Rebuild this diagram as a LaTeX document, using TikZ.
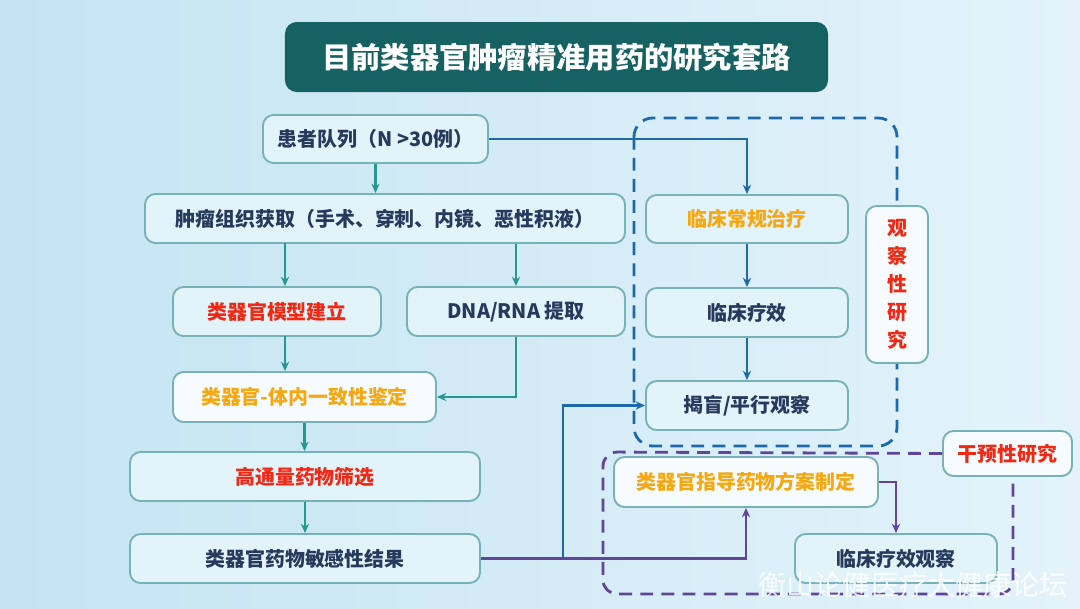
\documentclass[tikz,border=0pt]{standalone}
\usepackage{fontspec}
\newfontfamily\cjk{Noto Sans CJK SC}
\usetikzlibrary{arrows.meta,calc}
\definecolor{bgA}{RGB}{196,228,243}
\definecolor{bgB}{RGB}{228,243,250}
\definecolor{titlebg}{RGB}{22,98,98}
\definecolor{boxfill}{RGB}{226,243,250}
\definecolor{boxline}{RGB}{118,178,184}
\definecolor{navy}{RGB}{38,58,92}
\definecolor{redt}{RGB}{240,40,20}
\definecolor{oranget}{RGB}{245,168,18}
\definecolor{tealline}{RGB}{40,150,145}
\definecolor{blueline}{RGB}{30,105,170}
\definecolor{purpleline}{RGB}{95,70,150}
\tikzset{
  box/.style={draw=boxline, line width=1.6pt, fill=boxfill, rounded corners=9pt, inner sep=0pt,
    font=\cjk\bfseries\fontsize{17}{20}\selectfont, text=navy, align=center},
  whitebox/.style={box, fill=white!70!boxfill},
  tarrow/.style={draw=tealline, line width=2pt, -{Stealth[length=8pt,width=7pt]}},
  barrow/.style={draw=blueline, line width=2.2pt, -{Stealth[length=8pt,width=7pt]}},
  parrow/.style={draw=purpleline, line width=2.2pt, -{Stealth[length=8pt,width=7pt]}},
  frame/.style={line width=2.4pt, dash pattern=on 11pt off 7pt},
}
\begin{document}
\begin{tikzpicture}[x=0.03cm,y=-0.03cm]
% background
\shade[left color=bgA, right color=bgB] (0,0) rectangle (1080,608);
\useasboundingbox (0,0) rectangle (1080,608);
% title
\node[fill=titlebg, rounded corners=10pt, minimum width=16.29cm, minimum height=2.1cm,
  text=white, font=\cjk\bfseries\fontsize{25}{30}\selectfont] (title) at (556.5,57) {目前类器官肿瘤精准用药的研究套路};
% dashed frame (observational)
\draw[frame, blueline, rounded corners=16pt] (634,118) rectangle (897,446);
% left column
\node[box, minimum width=6.75cm, minimum height=1.44cm] (patient) at (375.5,139) {患者队列（N >30例）};
\node[box, minimum width=14.4cm, minimum height=1.47cm] (tumor) at (385,218.5) {肿瘤组织获取（手术、穿刺、内镜、恶性积液）};
\node[box, minimum width=6.24cm, minimum height=1.47cm, text=redt] (model) at (277,311.5) {类器官模型建立};
\node[box, minimum width=6.54cm, minimum height=1.47cm] (dna) at (516,311.5) {DNA/RNA 提取};
\node[whitebox, minimum width=7.89cm, minimum height=1.5cm, text=oranget] (consist) at (304.5,397) {类器官-体内一致性鉴定};
\node[box, minimum width=10.5cm, minimum height=1.47cm, text=redt] (hts) at (305,476.5) {高通量药物筛选};
\node[box, minimum width=10.5cm, minimum height=1.47cm] (sens) at (305,558.5) {类器官药物敏感性结果};
% right column
\node[box, minimum width=6.06cm, minimum height=1.44cm, text=oranget] (routine) at (747,219) {临床常规治疗};
\node[box, minimum width=6.06cm, minimum height=1.47cm] (effic) at (747,312.5) {临床疗效};
\node[box, minimum width=6.06cm, minimum height=1.47cm] (unblind) at (747,405.5) {揭盲/平行观察};
\node[whitebox, minimum width=1.86cm, minimum height=4.71cm, text=redt,
  font=\cjk\bfseries\fontsize{17}{24}\selectfont] (obs) at (897,284.5) {观\\察\\性\\研\\究};
\node[whitebox, minimum width=3.87cm, minimum height=1.35cm, text=redt] (interv) at (1007.5,453.5) {干预性研究};
% purple dashed frame (interventional)
\draw[frame, purpleline, rounded corners=12pt]
  (interv.west) -- (603,452) -- (603,594) -- (1013,594) -- ([xshift=0.165cm]interv.south);
\node[whitebox, minimum width=7.92cm, minimum height=1.5cm, text=oranget] (guide) at (746,482) {类器官指导药物方案制定};
\node[box, minimum width=6.06cm, minimum height=1.47cm] (cliobs) at (896,558.5) {临床疗效观察};
% connectors
\draw[tarrow] (patient.south) -- (patient.south |- tumor.north);
\draw[barrow] (patient.east) -| (routine.north);
\coordinate (tm) at (285,243);
\draw[tarrow] (tm) -- (tm |- model.north);
\draw[tarrow] (dna.north |- tumor.south) -- (dna.north);
\coordinate (mc) at (285,336);
\draw[tarrow] (mc) -- (mc |- consist.north);
\draw[tarrow] (dna.south) -- (dna.south |- consist.east) -- (consist.east);
\draw[tarrow] (consist.south) -- (consist.south |- hts.north);
\draw[tarrow] (hts.south) -- (sens.north);
\draw[barrow] (routine.south) -- (effic.north);
\draw[barrow] (effic.south) -- (unblind.north);
\coordinate (j1) at (563,557);
\draw[parrow] (sens.east) -| (guide.south);
\draw[barrow] (j1) |- (unblind.west);
\draw[parrow] (guide.east) -| (cliobs.north);
% watermark
\node[text=white, opacity=0.85, font=\cjk\fontsize{24}{28}\selectfont, anchor=east] (wm) at (1072,585) {衡山论健医疗大健康论坛};
\end{tikzpicture}
\end{document}
